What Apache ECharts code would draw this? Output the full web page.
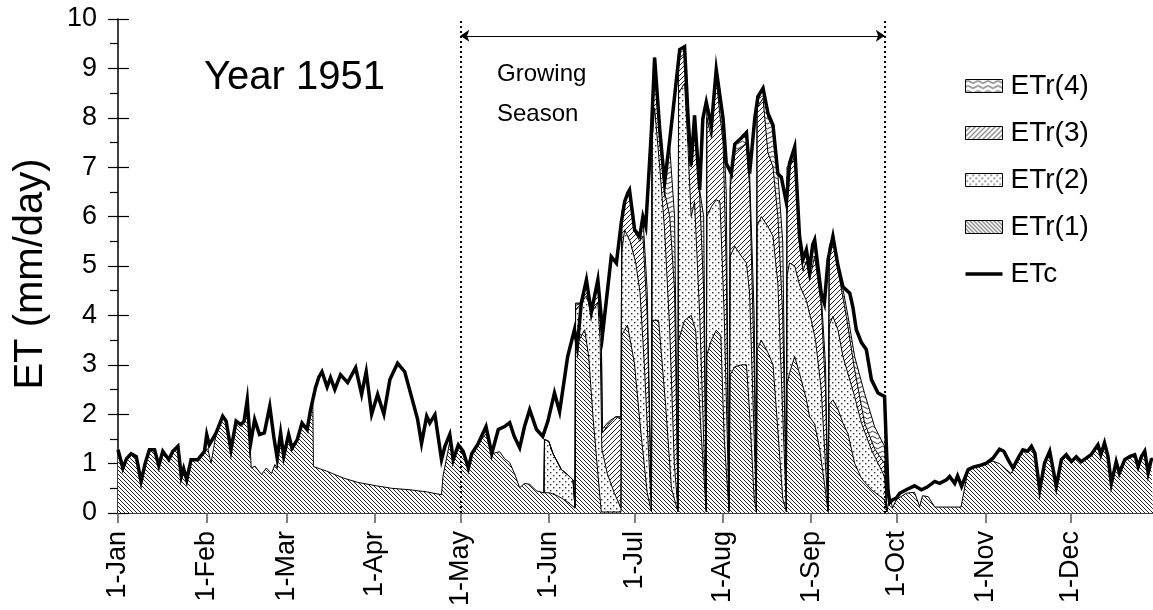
<!DOCTYPE html>
<html>
<head>
<meta charset="utf-8">
<script src="https://cdn.jsdelivr.net/npm/echarts@6/dist/echarts.min.js"></script>
<style>
  html, body { margin: 0; background: #fff; }
  #chart { width: 1153px; height: 610px; }
</style>
</head>
<body>
<div id="chart"></div>
<script>
// day-of-year of each month start and its tick label
const monthStarts = [1, 32, 60, 91, 121, 152, 182, 213, 244, 274, 305, 335];
const monthLabels = ['1-Jan', '1-Feb', '1-Mar', '1-Apr', '1-May', '1-Jun', '1-Jul', '1-Aug', '1-Sep', '1-Oct', '1-Nov', '1-Dec'];
const seasonStart = 121;
const seasonEnd = 269.8;

// [day, mm/day]
const etc = [[1,1.28],[2.7,0.91],[4,1.1],[5.6,1.2],[7.4,1.14],[9.1,0.64],[10.5,1.0],[12,1.28],[13.8,1.28],[15.3,0.96],[16.7,1.25],[18.8,1.08],[20.2,1.25],[22,1.35],[23.2,0.74],[24,0.9],[25.1,0.67],[26.6,1.08],[29,1.08],[31.3,1.25],[32.1,1.59],[33,1.38],[35.4,1.62],[37.7,1.96],[38.9,1.86],[40.6,1.28],[42.4,1.86],[44.1,1.79],[45.2,1.86],[46.3,2.29],[47.4,1.38],[48.9,1.89],[50.6,1.59],[52.3,1.62],[54.2,2.16],[55.6,1.55],[56.8,1.11],[58,1.62],[59.1,1.15],[60.8,1.59],[62,1.31],[63.8,1.48],[65.5,1.82],[67.3,1.69],[68.5,2.09],[70.2,2.53],[71.4,2.75],[72.5,2.86],[74.3,2.55],[75.5,2.74],[77,2.5],[79,2.8],[81.5,2.64],[84.3,2.94],[86.4,2.4],[88,2.86],[89.9,2.0],[92,2.4],[94.2,2.0],[96.3,2.7],[99,3.03],[101.5,2.86],[103.9,2.35],[106,1.9],[107.4,1.41],[109.2,1.96],[110.3,1.82],[112.1,1.99],[114.4,1.08],[115.6,1.35],[117.3,1.59],[118.5,1.08],[120.3,1.38],[122,1.25],[123.8,0.91],[125,1.2],[127.3,1.41],[130,1.75],[132,1.2],[134.3,1.69],[136.5,1.75],[138.3,1.83],[139.9,1.55],[141.8,1.32],[143.5,1.75],[145.3,2.09],[147.7,1.69],[149.9,1.55],[150.5,1.55],[151.7,1.86],[154,2.43],[155.8,2.05],[158.6,3.16],[161,3.71],[162,3.37],[163.4,4.25],[165.2,4.72],[166.9,4.06],[169.2,4.72],[170.9,3.64],[172.6,4.52],[173.9,5.19],[175.7,5.06],[177.4,5.87],[178.6,6.3],[179.7,6.48],[180.3,6.54],[182.1,5.73],[183.9,5.6],[185,6.0],[186,5.8],[188,7.76],[189.1,9.22],[190.9,7.76],[192.6,6.68],[194.4,7.55],[196.1,8.43],[197.9,9.38],[199.6,9.44],[200.8,8.05],[201.9,7.04],[203.1,8.05],[204.9,6.54],[206,7.98],[207.2,8.32],[209,7.83],[210.7,8.98],[211.3,9.0],[213.1,7.98],[214.2,7.08],[216,6.87],[217.2,7.47],[219.5,7.59],[221.3,7.7],[222.4,6.87],[224.2,7.98],[225.3,8.43],[227.1,8.6],[228.8,8.1],[230.6,7.85],[232.3,6.87],[233.5,6.8],[235.3,6.28],[236.4,7.08],[238.2,7.41],[239.9,5.6],[241.1,5.13],[242.3,5.33],[243.4,4.92],[244.5,5.43],[245.2,5.53],[247.5,4.45],[248.6,4.25],[249.9,5.13],[251.6,5.6],[253.4,5.0],[255.1,4.58],[257.5,4.45],[258.6,4.17],[259.8,3.71],[261.6,3.45],[263.3,3.31],[265.1,2.7],[267.4,2.43],[269.7,2.36],[270.9,0.47],[271.5,0.21],[272.6,0.27],[273.8,0.3],[275,0.4],[277.3,0.47],[280.2,0.55],[282.6,0.47],[284.5,0.52],[287.3,0.64],[289,0.6],[291.4,0.67],[292.5,0.74],[294.3,0.6],[295.3,0.75],[296.7,0.54],[299,0.88],[300.8,0.93],[303,0.96],[305.4,1.01],[307.7,1.11],[310,1.29],[311.5,1.25],[313,1.08],[314.7,0.91],[316.5,1.11],[318.2,1.28],[319.8,1.25],[321.2,1.35],[322.4,1.21],[324.1,0.47],[325.8,1.01],[327.6,1.25],[329.9,0.54],[331.7,1.08],[333.4,1.18],[335.2,1.04],[336.9,1.14],[338.6,1.04],[340.4,1.11],[342.1,1.18],[344.5,1.38],[345.5,1.18],[346.8,1.42],[348,1.15],[349.2,0.6],[350.9,1.04],[352,0.81],[353.9,1.08],[355.6,1.14],[357.4,1.18],[358.6,0.94],[359.7,1.14],[360.9,1.25],[362.1,0.81],[363.2,1.08],[363.8,1.1]];

const etr1 = [[1,1.28],[2.7,0.91],[4,1.1],[5.6,1.2],[7.4,1.14],[9.1,0.64],[10.5,1.0],[12,1.28],[13.8,1.28],[15.3,0.96],[16.7,1.25],[18.8,1.08],[20.2,1.25],[22,1.35],[23.2,0.74],[24,0.9],[25.1,0.67],[26.6,1.08],[29,1.08],[31.3,1.25],[32.5,1.3],[33.6,1.01],[34.5,1.3],[35.4,1.62],[37.7,1.96],[38.9,1.86],[40.6,1.28],[42.4,1.86],[44.1,1.79],[45.2,1.86],[46.3,2.29],[47.2,1.5],[47.7,0.91],[49,0.95],[51.3,0.78],[53,0.91],[54.8,0.8],[56,0.98],[56.8,0.91],[58,1.62],[59.1,1.15],[60.8,1.59],[62,1.31],[63.8,1.48],[65.5,1.82],[67.3,1.69],[68.5,2.09],[69.3,2.2],[69.5,0.94],[74,0.85],[79.9,0.71],[85,0.62],[91.6,0.55],[97,0.5],[103.3,0.47],[109,0.43],[114.4,0.37],[114.9,0.74],[116.5,1.2],[117.3,1.45],[118.5,1.08],[120.3,1.38],[122,1.25],[123.8,0.91],[125,1.2],[127.3,1.41],[130,1.6],[132,1.2],[134.8,1.24],[136.5,1.1],[138.3,1.02],[140,0.8],[141.8,0.51],[143.5,0.6],[145.3,0.58],[147.7,0.45],[150,0.41],[152.3,0.41],[155,0.35],[158,0.25],[161.2,0.1],[161.4,3.37],[164.6,3.71],[166,3.16],[167.5,1.95],[169,0.94],[170.4,0.02],[177.3,0.02],[177.6,3.6],[178.6,3.71],[179.6,3.8],[182,3.04],[184.2,1.68],[186.5,0.41],[188,0.02],[188.2,3.9],[190.5,3.9],[191.5,3.2],[193,2.15],[195,0.5],[197.3,0.02],[197.5,3.5],[199.6,3.9],[201.9,4.0],[203.5,3.7],[205.3,1.7],[207.2,0.02],[207.4,3.2],[209,3.5],[210.7,3.7],[212.3,3.6],[213.5,1.5],[215.2,0.02],[215.6,2.8],[217.2,2.96],[219.5,3.0],[221.3,3.0],[222.4,2.02],[224,0.3],[224.8,0.02],[225,3.3],[226.5,3.5],[228.8,3.25],[230.6,3.0],[232.3,1.68],[234,0.3],[235.3,0.02],[235.5,2.6],[236.4,2.83],[238.2,3.17],[240,2.8],[242.3,2.3],[243.4,1.95],[245.2,1.8],[247,1.28],[248.6,0.61],[249.9,0.02],[250.3,2.2],[251.6,2.29],[253.4,2.1],[255.1,1.82],[256.9,1.6],[259.2,1.01],[261.6,0.7],[265.1,0.47],[269.7,0.27],[270.5,0.02],[271.5,0.35],[272.5,0.1],[273.8,0.27],[277.3,0.4],[280.2,0.42],[282,0.13],[283,0.35],[285,0.33],[287.3,0.12],[296.5,0.12],[299,0.88],[300.8,0.93],[303,0.96],[305.4,1.01],[307.7,1.05],[310,1.0],[312.4,0.88],[314,0.8],[316.5,1.05],[318.2,1.28],[319.8,1.25],[321.2,1.35],[322.4,1.21],[324.1,0.47],[325.8,1.01],[327.6,1.25],[329.9,0.54],[331.7,1.08],[333.4,1.18],[335.2,1.04],[336.9,1.14],[338.6,1.04],[340.4,1.11],[342.1,1.18],[344.5,1.38],[345.5,1.18],[346.8,1.42],[348,1.15],[349.2,0.6],[350.9,1.04],[352,0.81],[353.9,1.08],[355.6,1.14],[357.4,1.18],[358.6,0.94],[359.7,1.14],[360.9,1.25],[362.1,0.81],[363.2,1.08],[363.8,1.1]];

const etr2 = [[150.3,0.41],[150.5,1.49],[152,1.45],[153.5,1.2],[156.4,0.88],[158.5,0.78],[160.5,0.67],[161.2,0.1],[161.4,4.1],[163.4,4.25],[165.2,4.4],[166.9,4.05],[169.2,4.25],[170,3.5],[170.6,1.3],[172.5,0.8],[175,0.4],[177.3,0.1],[177.6,5.3],[178.6,5.73],[180.5,5.5],[182.5,5.06],[184,4.45],[185.5,3.0],[187,1.2],[188,0.05],[188.2,7.5],[189.1,8.2],[190.9,7.0],[192.6,5.73],[194.4,3.7],[196,1.0],[197.3,0.05],[197.5,8.5],[199.6,8.7],[200.8,7.4],[201.9,6.0],[203.1,6.3],[204.9,4.0],[206.3,1.5],[207.2,0.05],[207.4,6.0],[209,6.2],[210.7,6.34],[212,6.3],[213.5,4.0],[215.2,0.05],[215.6,5.2],[217.2,5.4],[219.5,5.2],[221.3,5.06],[222.4,4.45],[224,1.5],[224.8,0.05],[225,5.8],[226.5,6.0],[228.8,5.8],[230.6,5.6],[232.3,4.65],[234,2.0],[235.3,0.05],[235.5,4.8],[236.4,5.06],[238.2,5.0],[240,4.6],[242.3,4.3],[244,3.9],[245.5,3.5],[247.5,2.5],[249.9,0.05],[250.3,3.8],[251.6,3.98],[253.4,3.7],[255.1,3.17],[259.2,2.36],[261.6,1.82],[265.1,1.28],[269.7,0.74],[270.5,0.02]];

const etr3 = [[150.3,0.41],[150.5,1.49],[152,1.45],[153.5,1.2],[156.4,0.88],[158.5,0.78],[160.5,0.67],[161.2,0.1],[161.4,4.2],[163.4,4.25],[165.2,4.6],[166.9,4.06],[169.2,4.6],[170.4,3.6],[170.8,1.62],[173,1.8],[175.5,1.95],[177.3,1.9],[177.6,6.0],[178.6,6.3],[180.3,6.5],[182.1,5.7],[183.9,5.5],[185,5.6],[186.5,4.0],[188,0.1],[188.2,7.7],[189.1,9.0],[190.9,7.6],[192.6,6.5],[194.4,6.0],[196.1,4.5],[197.3,0.1],[197.5,9.2],[199.6,9.3],[200.8,8.0],[201.9,7.0],[203.1,7.8],[204.9,6.4],[206.3,4.5],[207.2,0.1],[207.4,8.0],[209,7.6],[210.7,8.8],[211.9,8.1],[213.1,7.5],[214.2,5.0],[215.2,0.1],[215.6,6.6],[217.2,7.3],[219.5,7.4],[221.3,7.5],[222.4,6.6],[224,3.0],[224.8,0.1],[225,8.2],[227.1,8.4],[228.8,7.3],[230.6,7.0],[232.3,6.0],[234,4.0],[235.3,0.1],[235.5,6.8],[236.4,7.0],[238.2,7.2],[239.9,5.4],[241.1,4.9],[242.3,5.1],[243.4,4.7],[245.2,5.2],[247.5,4.2],[249,2.5],[249.9,0.1],[250.3,5.3],[251.6,5.53],[253.4,4.9],[256.3,3.98],[259.2,2.9],[262.7,1.82],[266.2,1.3],[269.7,1.0],[270.5,0.02]];

const etr4 = [[150.3,0.41],[150.5,1.49],[152,1.45],[153.5,1.2],[156.4,0.88],[158.5,0.78],[160.5,0.67],[161.2,0.1],[161.4,4.25],[163.4,4.25],[165.2,4.7],[166.9,4.06],[169.2,4.7],[170.4,3.64],[170.8,1.7],[173,1.85],[175.5,1.95],[177.3,1.95],[177.6,6.1],[178.6,6.34],[180.3,6.54],[182.1,5.73],[183.9,5.6],[185,6.0],[186.5,4.5],[188,0.1],[188.2,7.76],[189.1,9.22],[190.9,7.76],[192.6,6.68],[194.4,7.4],[196.1,6.0],[197.3,0.1],[197.5,9.38],[199.6,9.44],[200.8,8.05],[201.9,7.04],[203.1,8.05],[204.9,6.54],[206.3,6.0],[207.2,0.1],[207.4,8.32],[209,7.83],[210.7,8.98],[211.9,8.6],[213.1,7.98],[214.2,6.5],[215.2,0.1],[215.6,6.8],[217.2,7.47],[219.5,7.59],[221.3,7.7],[222.4,6.87],[224,4.0],[224.8,0.1],[225,8.3],[227.1,8.6],[228.8,8.0],[230.6,7.8],[232.3,6.87],[234,5.5],[235.3,0.1],[235.5,7.0],[236.4,7.08],[238.2,7.41],[239.9,5.6],[241.1,5.13],[242.3,5.33],[243.4,4.92],[245.2,5.53],[247.5,4.45],[249,3.0],[249.9,0.1],[250.3,5.4],[251.6,5.6],[253.4,5.06],[256.9,3.98],[259.2,3.17],[262.7,2.42],[266.2,1.75],[269.7,1.35],[270.5,0.02]];

const FONT = '"Liberation Sans", Arial, sans-serif';

// fill patterns for the ETr areas
function makePattern(kind) {
  const c = document.createElement('canvas');
  const ctx = c.getContext('2d');
  if (kind === 'back' || kind === 'fwd') {
    const s = kind === 'back' ? 4 : 5;
    c.width = s; c.height = s;
    ctx.fillStyle = '#fff';
    ctx.fillRect(0, 0, s, s);
    ctx.strokeStyle = '#222';
    ctx.lineWidth = 1;
    ctx.beginPath();
    for (const k of [-s, 0, s]) {
      if (kind === 'back') { ctx.moveTo(k, 0); ctx.lineTo(k + s, s); }
      else { ctx.moveTo(k, s); ctx.lineTo(k + s, 0); }
    }
    ctx.stroke();
  } else if (kind === 'dots') {
    c.width = 6; c.height = 6;
    ctx.fillStyle = '#fff';
    ctx.fillRect(0, 0, 6, 6);
    ctx.fillStyle = '#333';
    ctx.fillRect(1, 1, 1.4, 1.4);
    ctx.fillRect(4, 4, 1.4, 1.4);
  } else {
    c.width = 10; c.height = 5;
    ctx.fillStyle = '#fff';
    ctx.fillRect(0, 0, 10, 5);
    ctx.strokeStyle = '#333';
    ctx.lineWidth = 1;
    ctx.beginPath();
    ctx.moveTo(0, 2.5);
    ctx.quadraticCurveTo(2.5, 0, 5, 2.5);
    ctx.quadraticCurveTo(7.5, 5, 10, 2.5);
    ctx.stroke();
  }
  return { image: c, repeat: 'repeat' };
}

const patterns = {
  etr4: makePattern('wave'),
  etr3: makePattern('fwd'),
  etr2: makePattern('dots'),
  etr1: makePattern('back')
};

function areaSeries(name, data, pattern) {
  return {
    name: name,
    type: 'line',
    data: data,
    showSymbol: false,
    symbol: 'none',
    color: '#000',
    lineStyle: { color: '#000', width: 1 },
    areaStyle: { color: pattern, opacity: 1 },
    animation: false
  };
}

const chart = echarts.init(document.getElementById('chart'));

chart.setOption({
  animation: false,
  grid: { left: 118, top: 19, width: 1035, height: 494 },
  legend: {
    orient: 'vertical',
    left: 960,
    top: 67,
    itemWidth: 37,
    itemHeight: 13,
    itemGap: 19,
    selectedMode: false,
    textStyle: { fontFamily: FONT, fontSize: 28, lineHeight: 28, color: '#000', padding: [0, 0, 0, 3] },
    data: [
      { name: 'ETr(4)', icon: 'rect', itemStyle: { color: patterns.etr4, borderColor: '#000', borderWidth: 1 } },
      { name: 'ETr(3)', icon: 'rect', itemStyle: { color: patterns.etr3, borderColor: '#000', borderWidth: 1 } },
      { name: 'ETr(2)', icon: 'rect', itemStyle: { color: patterns.etr2, borderColor: '#000', borderWidth: 1 } },
      { name: 'ETr(1)', icon: 'rect', itemStyle: { color: patterns.etr1, borderColor: '#000', borderWidth: 1 } },
      { name: 'ETc', icon: 'path://M0,0L40,0L40,4L0,4Z', itemStyle: { color: '#000', borderWidth: 0 } }
    ]
  },
  xAxis: {
    type: 'value',
    min: 1,
    max: 363.8,
    axisLine: { lineStyle: { color: '#000', width: 1.5 } },
    splitLine: { show: false },
    axisTick: { customValues: monthStarts, length: 10, lineStyle: { color: '#555', width: 1.5 } },
    axisLabel: {
      customValues: monthStarts,
      rotate: 90,
      margin: 18,
      fontFamily: FONT,
      fontSize: 27,
      color: '#000',
      formatter: function (v) { return monthLabels[monthStarts.indexOf(v)]; }
    }
  },
  yAxis: [
    {
      type: 'value',
      min: 0,
      max: 10,
      interval: 1,
      axisLine: { show: true, lineStyle: { color: '#000', width: 1.5 } },
      axisTick: { length: 10, lineStyle: { color: '#000', width: 1.2 } },
      minorTick: { show: true, splitNumber: 2, length: 8, lineStyle: { color: '#000', width: 1.2 } },
      splitLine: { show: false },
      axisLabel: { margin: 21, fontFamily: FONT, fontSize: 27, color: '#000' }
    },
    {
      type: 'value',
      min: 0,
      max: 10,
      interval: 1,
      position: 'left',
      axisLine: { show: false },
      axisTick: { inside: true, length: 11, lineStyle: { color: '#000', width: 1.2 } },
      splitLine: { show: false },
      axisLabel: { show: false }
    }
  ],
  graphic: [
    {
      type: 'text', x: 31, y: 274, rotation: Math.PI / 2,
      style: { text: 'ET (mm/day)', font: '40px ' + FONT, fill: '#000', align: 'center', verticalAlign: 'middle' }
    },
    { type: 'text', left: 204, top: 58, style: { text: 'Year 1951', font: '40px ' + FONT, fill: '#000' } },
    { type: 'text', left: 497, top: 54, style: { text: 'Growing\nSeason', font: '24px ' + FONT, lineHeight: 40, fill: '#000' } }
  ],
  series: [
    areaSeries('ETr(4)', etr4, patterns.etr4),
    areaSeries('ETr(3)', etr3, patterns.etr3),
    areaSeries('ETr(2)', etr2, patterns.etr2),
    areaSeries('ETr(1)', etr1, patterns.etr1),
    {
      name: 'ETc',
      type: 'line',
      data: etc,
      showSymbol: false,
      symbol: 'none',
      color: '#000',
      lineStyle: { color: '#000', width: 3.5, join: 'miter' },
      z: 5,
      markLine: {
        silent: true,
        symbol: 'none',
        label: { show: false },
        lineStyle: { color: '#000', type: [2, 3], width: 2 },
        data: [
          { xAxis: seasonStart },
          { xAxis: seasonEnd },
          [
            { coord: [seasonStart, 9.66], symbol: 'arrow', symbolSize: 9, lineStyle: { type: 'solid', width: 1 } },
            { coord: [seasonEnd, 9.66], symbol: 'arrow', symbolSize: 9 }
          ]
        ]
      }
    }
  ]
});
</script>
</body>
</html>
